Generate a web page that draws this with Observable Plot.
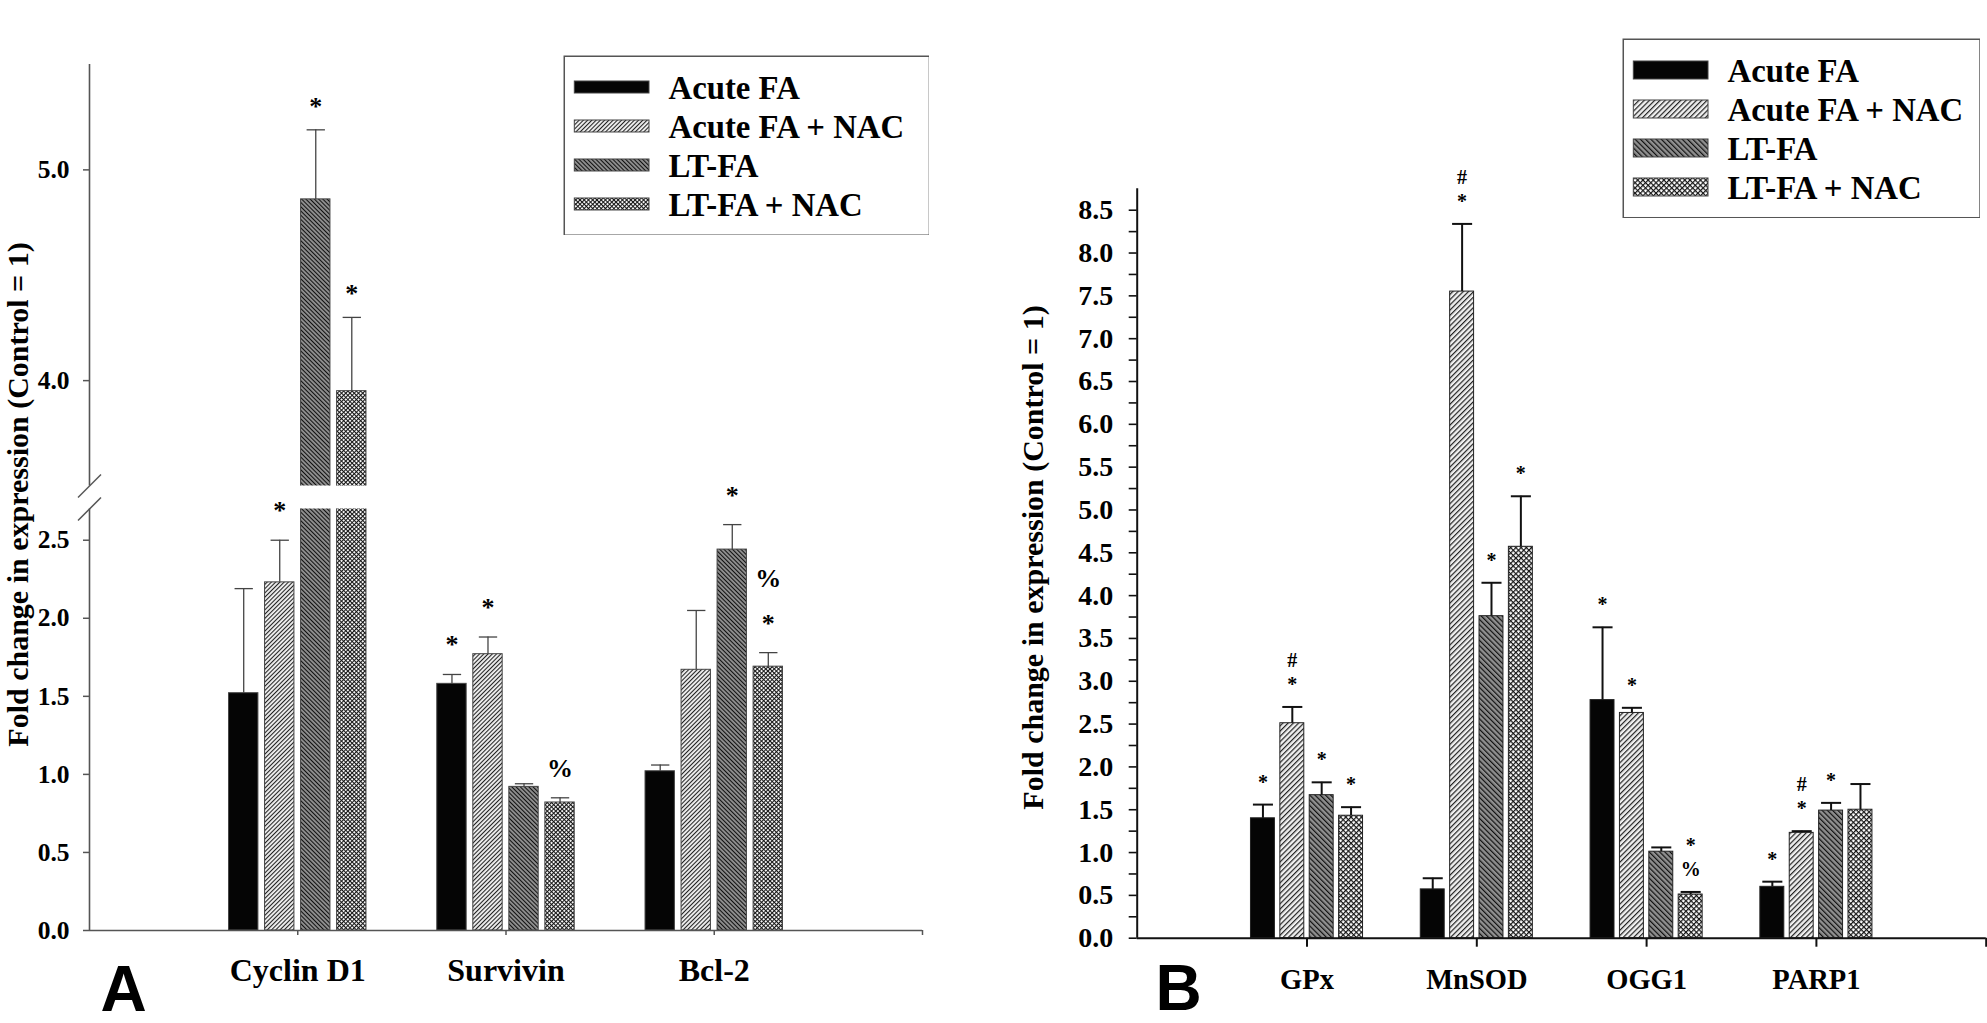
<!DOCTYPE html>
<html>
<head>
<meta charset="utf-8">
<script src="https://cdn.jsdelivr.net/npm/d3@7"></script>
<script src="https://cdn.jsdelivr.net/npm/@observablehq/plot@0.6"></script>
<style>
  html, body { margin: 0; padding: 0; background: #fff; }
  #root { position: relative; width: 1987px; height: 1023px; overflow: hidden; background: #fff; }
  #root > svg { position: absolute; }
  #root text { font-weight: 700; }
</style>
</head>
<body>
<div id="root"></div>
<script>
// ---------------- DATA ----------------
const series = ["Acute FA", "Acute FA + NAC", "LT-FA", "LT-FA + NAC"];

// Panel A
const genesA = ["Cyclin D1", "Survivin", "Bcl-2"];
const acuteFA_A  = [1.52, 1.58, 1.02];
const acuteNAC_A = [2.23, 1.77, 1.67];
const ltFA_A     = [4.86, 0.92, 2.44];
const ltNAC_A    = [3.95, 0.82, 1.69];
const errAcuteFA_A  = [0.67, 0.06, 0.04];
const errAcuteNAC_A = [0.27, 0.11, 0.38];
const errLtFA_A     = [0.33, 0.02, 0.16];
const errLtNAC_A    = [0.35, 0.03, 0.09];
const sigAcuteFA_A  = ["", "*", ""];
const sigAcuteNAC_A = ["*", "*", ""];
const sigLtFA_A     = ["*", "", "*"];
const sigLtNAC_A    = ["*", "%", "%\n*"];
const ticksA = [0, 0.5, 1.0, 1.5, 2.0, 2.5, 4.0, 5.0];
const breakA = [2.7, 3.5];   // y-axis break: lower segment ends, upper segment starts
const topA = 5.5;

// Panel B
const genesB = ["GPx", "MnSOD", "OGG1", "PARP1"];
const acuteFA_B  = [1.40, 0.57, 2.78, 0.60];
const acuteNAC_B = [2.51, 7.55, 2.63, 1.23];
const ltFA_B     = [1.67, 3.76, 1.01, 1.49];
const ltNAC_B    = [1.43, 4.57, 0.51, 1.50];
const errAcuteFA_B  = [0.16, 0.13, 0.85, 0.06];
const errAcuteNAC_B = [0.19, 0.79, 0.06, 0.02];
const errLtFA_B     = [0.15, 0.39, 0.05, 0.09];
const errLtNAC_B    = [0.10, 0.59, 0.03, 0.30];
const sigAcuteFA_B  = ["*", "", "*", "*"];
const sigAcuteNAC_B = ["#\n*", "#\n*", "*", "#\n*"];
const sigLtFA_B     = ["*", "*", "", "*"];
const sigLtNAC_B    = ["*", "*", "*\n%", ""];
const ticksB = [0, 0.5, 1.0, 1.5, 2.0, 2.5, 3.0, 3.5, 4.0, 4.5, 5.0, 5.5, 6.0, 6.5, 7.0, 7.5, 8.0, 8.5];
const minorB = [0.25, 0.75, 1.25, 1.75, 2.25, 2.75, 3.25, 3.75, 4.25, 4.75, 5.25, 5.75, 6.25, 6.75, 7.25, 7.75, 8.25];
const topB = 8.75;

const yTitle = "Fold change in expression (Control = 1)";

// ---------------- HELPERS ----------------
const SERIF = '"Liberation Serif", "Times New Roman", Times, serif';
const SANS = '"Liberation Sans", Arial, Helvetica, sans-serif';
const root = document.getElementById("root");

function patternDefs(id, s, lw) {
  return `
  <pattern id="${id}-nac" patternUnits="userSpaceOnUse" width="${s}" height="${s}" patternTransform="rotate(45)">
    <rect width="${s}" height="${s}" fill="#efefef"/>
    <rect x="0" y="0" width="${lw}" height="${s}" fill="#222"/>
  </pattern>
  <pattern id="${id}-lt" patternUnits="userSpaceOnUse" width="${s}" height="${s}" patternTransform="rotate(-45)">
    <rect width="${s}" height="${s}" fill="#8f8f8f"/>
    <rect x="0" y="0" width="${lw}" height="${s}" fill="#111"/>
  </pattern>
  <pattern id="${id}-ltnac" patternUnits="userSpaceOnUse" width="${s}" height="${s}" patternTransform="rotate(45)">
    <rect width="${s}" height="${s}" fill="#ffffff"/>
    <rect x="0" y="0" width="${lw}" height="${s}" fill="#151515"/>
    <rect x="0" y="0" width="${s}" height="${lw}" fill="#151515"/>
  </pattern>`;
}
const defs = document.createElementNS("http://www.w3.org/2000/svg", "svg");
defs.setAttribute("width", "0");
defs.setAttribute("height", "0");
defs.style.position = "absolute";
defs.innerHTML = `<defs>${patternDefs("pa", 3.0, 1.05)}${patternDefs("pb", 3.7, 1.2)}</defs>`;
document.body.appendChild(defs);

const fillsA = ["#050505", "url(#pa-nac)", "url(#pa-lt)", "url(#pa-ltnac)"];
const fillsB = ["#050505", "url(#pb-nac)", "url(#pb-lt)", "url(#pb-ltnac)"];

function table(genes, vals, errs, sigs) {
  const rows = [];
  genes.forEach((gene, gi) => vals.forEach((v, si) =>
    rows.push({gene, gi, si, value: v[gi], err: errs[si][gi], sig: sigs[si][gi]})));
  return rows;
}
const rowsA = table(genesA, [acuteFA_A, acuteNAC_A, ltFA_A, ltNAC_A],
  [errAcuteFA_A, errAcuteNAC_A, errLtFA_A, errLtNAC_A],
  [sigAcuteFA_A, sigAcuteNAC_A, sigLtFA_A, sigLtNAC_A]);
const rowsB = table(genesB, [acuteFA_B, acuteNAC_B, ltFA_B, ltNAC_B],
  [errAcuteFA_B, errAcuteNAC_B, errLtFA_B, errLtNAC_B],
  [sigAcuteFA_B, sigAcuteNAC_B, sigLtFA_B, sigLtNAC_B]);

// group layout (in category units)
const STEP = 0.173, BW = 0.141;
const cx = d => d.gi + 1 + (d.si - 1.5) * STEP;
const errTop = d => d.value + d.err;

function barMarks(rows, fills, o) {
  return series.map((s, si) => Plot.rectY(rows.filter(d => d.si === si), {
    x1: d => cx(d) - BW / 2, x2: d => cx(d) + BW / 2, y1: 0, y2: "value",
    fill: fills[si], stroke: o.barStroke, strokeWidth: 1, clip: !!o.clip
  }));
}
function errMarks(rows, o) {
  return [
    Plot.ruleX(rows, {x: cx, y1: "value", y2: errTop, stroke: o.errColor, strokeWidth: o.errWidth}),
    Plot.link(rows, {x1: d => cx(d) - o.cap / 2, x2: d => cx(d) + o.cap / 2, y1: errTop, y2: errTop,
      stroke: o.errColor, strokeWidth: o.errWidth}),
    Plot.text(rows.filter(d => d.sig), {x: cx, y: errTop, text: "sig", lineAnchor: "bottom",
      dy: o.sigDy, fontSize: o.sigFont, lineHeight: o.sigLH, fontWeight: "bold", fill: "#000"})
  ];
}

const slash = {draw(ctx, size) { const r = Math.sqrt(size / Math.PI); ctx.moveTo(-r, r); ctx.lineTo(r, -r); }};

// ---------------- PANEL A (broken y axis: two stacked segments) ----------------
const A = {w: 990, h: 1023, left: 89, right: 922, top: 64, bottom: 930, gap: 23, titleY: 494};
const aHalf = (A.bottom - A.top - A.gap) / 2;
const axA = "#555";
const optA = {barStroke: "#444", errColor: "#444", errWidth: 1.3, cap: 0.088, sigDy: -21, sigFont: 26, sigLH: 1.72, clip: true};
const styleA = {fontFamily: SERIF, background: "transparent", color: "#000"};

const lowerA = Plot.plot({
  width: A.w, height: A.h,
  marginLeft: A.left, marginRight: A.w - A.right, marginTop: A.bottom - aHalf, marginBottom: A.h - A.bottom,
  style: styleA,
  x: {domain: [0, genesA.length + 1]},
  y: {domain: [0, breakA[0]]},
  marks: [
    ...barMarks(rowsA, fillsA, optA),
    ...errMarks(rowsA.filter(d => errTop(d) <= breakA[0]), optA),
    Plot.ruleX([0], {stroke: axA, strokeWidth: 1.6}),
    Plot.ruleY([0], {stroke: axA, strokeWidth: 1.6}),
    Plot.dot([breakA[0]], {x: 0, y: d => d, symbol: slash, r: 11.5, stroke: axA, strokeWidth: 1.5, fill: "none"}),
    Plot.axisY({ticks: ticksA.filter(t => t <= breakA[0]), tickFormat: d3.format(".1f"), tickSize: 6, tickPadding: 14,
      fontSize: 25.5, fontWeight: "bold", label: null, stroke: axA, strokeWidth: 1.5, fill: "#000"}),
    Plot.axisX({ticks: [1, 2, 3, 4], tickFormat: i => genesA[i - 1] ?? "", tickSize: 5, tickPadding: 23,
      fontSize: 32, fontWeight: "bold", label: null, stroke: axA, strokeWidth: 1.5, fill: "#000"}),
    Plot.text([yTitle], {frameAnchor: "left", rotate: -90, textAnchor: "middle", lineAnchor: "middle",
      dx: -71, dy: A.titleY - (A.bottom - aHalf / 2),
      fontSize: 30, fontWeight: "bold", fill: "#000"}),
    Plot.text(["A"], {frameAnchor: "bottom-left", textAnchor: "start", lineAnchor: "bottom", dx: 11, dy: 80,
      fontSize: 64, fontWeight: "bold", fontFamily: SANS, fill: "#000"})
  ]
});
lowerA.style.left = "0px"; lowerA.style.top = "0px";
root.appendChild(lowerA);

const upperA = Plot.plot({
  width: A.w, height: A.h,
  marginLeft: A.left, marginRight: A.w - A.right, marginTop: A.top, marginBottom: A.h - (A.top + aHalf),
  style: styleA,
  x: {domain: [0, genesA.length + 1], axis: null},
  y: {domain: [breakA[1], topA]},
  marks: [
    ...barMarks(rowsA.filter(d => d.value > breakA[1]), fillsA, optA),
    ...errMarks(rowsA.filter(d => errTop(d) > breakA[1]), {...optA, sigDy: -15}),
    Plot.ruleX([0], {stroke: axA, strokeWidth: 1.6}),
    Plot.dot([breakA[1]], {x: 0, y: d => d, symbol: slash, r: 11.5, stroke: axA, strokeWidth: 1.5, fill: "none"}),
    Plot.axisY({ticks: ticksA.filter(t => t >= breakA[1]), tickFormat: d3.format(".1f"), tickSize: 6, tickPadding: 14,
      fontSize: 25.5, fontWeight: "bold", label: null, stroke: axA, strokeWidth: 1.5, fill: "#000"})
  ]
});
upperA.style.left = "0px"; upperA.style.top = "0px";
root.appendChild(upperA);

// ---------------- PANEL B ----------------
const B = {x0: 990, w: 997, h: 1023, left: 1136.7 - 990, right: 1985.7 - 990, top: 188.3, bottom: 937.7};
const axB = "#111";
const optB = {barStroke: "#222", errColor: "#111", errWidth: 2, cap: 0.118, sigDy: -16, sigFont: 20, sigLH: 1.2};
const plotB = Plot.plot({
  width: B.w, height: B.h,
  marginLeft: B.left, marginRight: B.w - B.right, marginTop: B.top, marginBottom: B.h - B.bottom,
  style: {fontFamily: SERIF, background: "transparent", color: "#000"},
  x: {domain: [0, genesB.length + 1]},
  y: {domain: [0, topB]},
  marks: [
    ...barMarks(rowsB, fillsB, optB),
    ...errMarks(rowsB, optB),
    Plot.ruleX([0], {stroke: axB, strokeWidth: 2}),
    Plot.ruleY([0], {stroke: axB, strokeWidth: 2}),
    Plot.axisY({ticks: ticksB, tickFormat: d3.format(".1f"), tickSize: 8, tickPadding: 16,
      fontSize: 28, fontWeight: "bold", label: null, stroke: axB, strokeWidth: 1.6, fill: "#000"}),
    Plot.axisY({ticks: minorB, tickFormat: () => "", tickSize: 8, label: null, stroke: axB, strokeWidth: 1.6}),
    Plot.axisX({ticks: [1, 2, 3, 4, 5], tickFormat: i => genesB[i - 1] ?? "", tickSize: 9, tickPadding: 22,
      fontSize: 28.5, fontWeight: "bold", label: null, stroke: axB, strokeWidth: 2, fill: "#000"}),
    Plot.text([yTitle], {frameAnchor: "left", rotate: -90, textAnchor: "middle", lineAnchor: "middle",
      dx: -103.8, dy: -6, fontSize: 30, fontWeight: "bold", fill: "#000"}),
    Plot.text(["B"], {frameAnchor: "bottom-left", textAnchor: "start", lineAnchor: "bottom", dx: 18.3, dy: 72,
      fontSize: 64, fontWeight: "bold", fontFamily: SANS, fill: "#000"})
  ]
});
plotB.style.left = B.x0 + "px"; plotB.style.top = "0px";
root.appendChild(plotB);

// ---------------- LEGENDS ----------------
function makeLegend(fills, swH, boxW, boxH) {
  const pitch = 39.6, first = 30.8;
  const p = 1 - swH / pitch;
  return Plot.plot({
    width: boxW, height: boxH, margin: 0,
    style: {fontFamily: SERIF, background: "#fff", color: "#000"},
    x: {domain: [0, 1], range: [11.3, 86], axis: null},
    y: {type: "band", domain: series, range: [first - pitch / 2, first - pitch / 2 + 4 * pitch],
        paddingInner: p, paddingOuter: p / 2, axis: null},
    marks: [
      Plot.frame({stroke: "#555", strokeWidth: 1.5, inset: 0.75}),
      ...series.map((s, i) => Plot.barX([s], {x1: 0, x2: 1, y: d => d, fill: fills[i], stroke: "#444", strokeWidth: 1})),
      Plot.text(series, {x: 1, y: d => d, dx: 19, dy: 1.3, textAnchor: "start", lineAnchor: "middle",
        fontSize: 32.8, fontWeight: "bold", fill: "#000"})
    ]
  });
}
const legA = makeLegend(fillsA, 12.3, 366.7, 180.5);
legA.style.left = "562.6px"; legA.style.top = "54.5px";
root.appendChild(legA);
const legB = makeLegend(fillsB, 18, 358.3, 180);
legB.style.left = "1621.7px"; legB.style.top = "37.7px";
root.appendChild(legB);
</script>
</body>
</html>
